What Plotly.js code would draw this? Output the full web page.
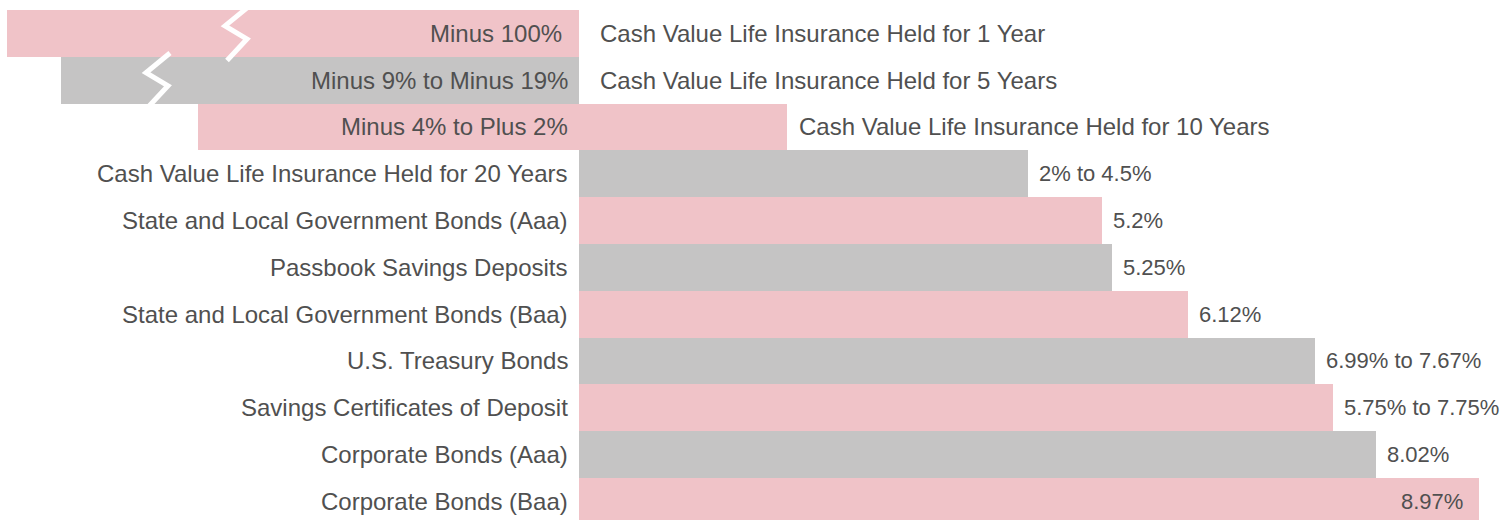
<!DOCTYPE html>
<html>
<head>
<meta charset="utf-8">
<script src="https://cdn.plot.ly/plotly-3.0.1.min.js"></script>
<style>html,body{margin:0;padding:0;background:#ffffff;overflow:hidden}</style>
</head>
<body>
<div id="chart" style="width:1509px;height:520px"></div>
<script>
// ---- data (percent, bars as drawn in the reference; broken bars are truncated) ----
const categories = [
  "Cash Value Life Insurance Held for 1 Year",
  "Cash Value Life Insurance Held for 5 Years",
  "Cash Value Life Insurance Held for 10 Years",
  "Cash Value Life Insurance Held for 20 Years",
  "State and Local Government Bonds (Aaa)",
  "Passbook Savings Deposits",
  "State and Local Government Bonds (Baa)",
  "U.S. Treasury Bonds",
  "Savings Certificates of Deposit",
  "Corporate Bonds (Aaa)",
  "Corporate Bonds (Baa)"
];
const valueLabels = [
  "Minus 100%",
  "Minus 9% to Minus 19%",
  "Minus 4% to Plus 2%",
  "2% to 4.5%",
  "5.2%",
  "5.25%",
  "6.12%",
  "6.99% to 7.67%",
  "5.75% to 7.75%",
  "8.02%",
  "8.97%"
];
const barStart = [-5.72, -5.18, -3.81, 0, 0, 0, 0, 0, 0, 0, 0];
const barEnd   = [0, 0, 2.08, 4.49, 5.23, 5.33, 6.09, 7.36, 7.54, 7.97, 9.00];
// broken (truncated) bars: index and where the break sits
const brokenBars = [0, 1];
const breakAt = [-3.32, -4.11];

// ---- styling ----
const PINK = "#f0c3c8";
const GRAY = "#c5c4c4";
const TEXT = "#505050";
const FONT = "'Liberation Sans', Arial, Helvetica, sans-serif";
const FS = 24;
const FS_VAL = 22;

const idx = categories.map((_, i) => i);
const colors = idx.map(i => (i % 2 === 0 ? PINK : GRAY));

const trace = {
  type: "bar",
  orientation: "h",
  y: idx,
  x: idx.map(i => barEnd[i] - barStart[i]),
  base: barStart,
  width: 1,
  marker: { color: colors, line: { width: 0 } },
  hoverinfo: "skip"
};

const annotations = [];
const fontObj = { family: FONT, size: FS, color: TEXT };
const valFont = { family: FONT, size: FS_VAL, color: TEXT };
idx.forEach(i => {
  if (barStart[i] < 0) {
    // value label inside the bar, left of zero
    annotations.push({
      x: 0, y: i, xref: "x", yref: "y", text: valueLabels[i],
      xanchor: "right", yanchor: "middle", xshift: i === 0 ? -15 : -9,
      showarrow: false, font: fontObj
    });
    // category label right of bar
    const e = Math.max(barEnd[i], 0);
    annotations.push({
      x: e, y: i, xref: "x", yref: "y", text: categories[i],
      xanchor: "left", yanchor: "middle", xshift: e > 0 ? 10 : 19,
      showarrow: false, font: fontObj
    });
  } else {
    annotations.push({
      x: 0, y: i, xref: "x", yref: "y", text: categories[i],
      xanchor: "right", yanchor: "middle", xshift: -9,
      showarrow: false, font: fontObj
    });
    const inside = barEnd[i] > 8.5;
    annotations.push({
      x: barEnd[i], y: i, xref: "x", yref: "y", text: valueLabels[i],
      xanchor: inside ? "right" : "left", yanchor: "middle",
      xshift: inside ? -14 : 9,
      showarrow: false, font: valFont
    });
  }
});

// break marks (white zig-zag gaps)
const zx = [0.02, -0.22, 0.0, -0.20];
const zy = [-0.58, -0.16, 0.12, 0.58];
const shapes = brokenBars.map((bi, k) => {
  const b = breakAt[k];
  const pts = zx.map((dx, j) => (j === 0 ? "M" : "L") + (b + dx) + "," + (bi + zy[j]));
  return {
    type: "path", xref: "x", yref: "y", path: pts.join(" "),
    line: { color: "#ffffff", width: 5 }, layer: "above"
  };
});

const layout = {
  width: 1509, height: 520,
  margin: { l: 0, r: 0, t: 10, b: 0, pad: 0 },
  paper_bgcolor: "#ffffff", plot_bgcolor: "#ffffff",
  showlegend: false,
  bargap: 0,
  xaxis: { range: [-5.79, 9.30], showgrid: false, zeroline: false, showticklabels: false, ticks: "", showline: false, fixedrange: true },
  yaxis: { range: [10.4, -0.5], showgrid: false, zeroline: false, showticklabels: false, ticks: "", showline: false, fixedrange: true },
  annotations: annotations,
  shapes: shapes
};

Plotly.newPlot("chart", [trace], layout, { staticPlot: true, displayModeBar: false });
</script>
</body>
</html>
